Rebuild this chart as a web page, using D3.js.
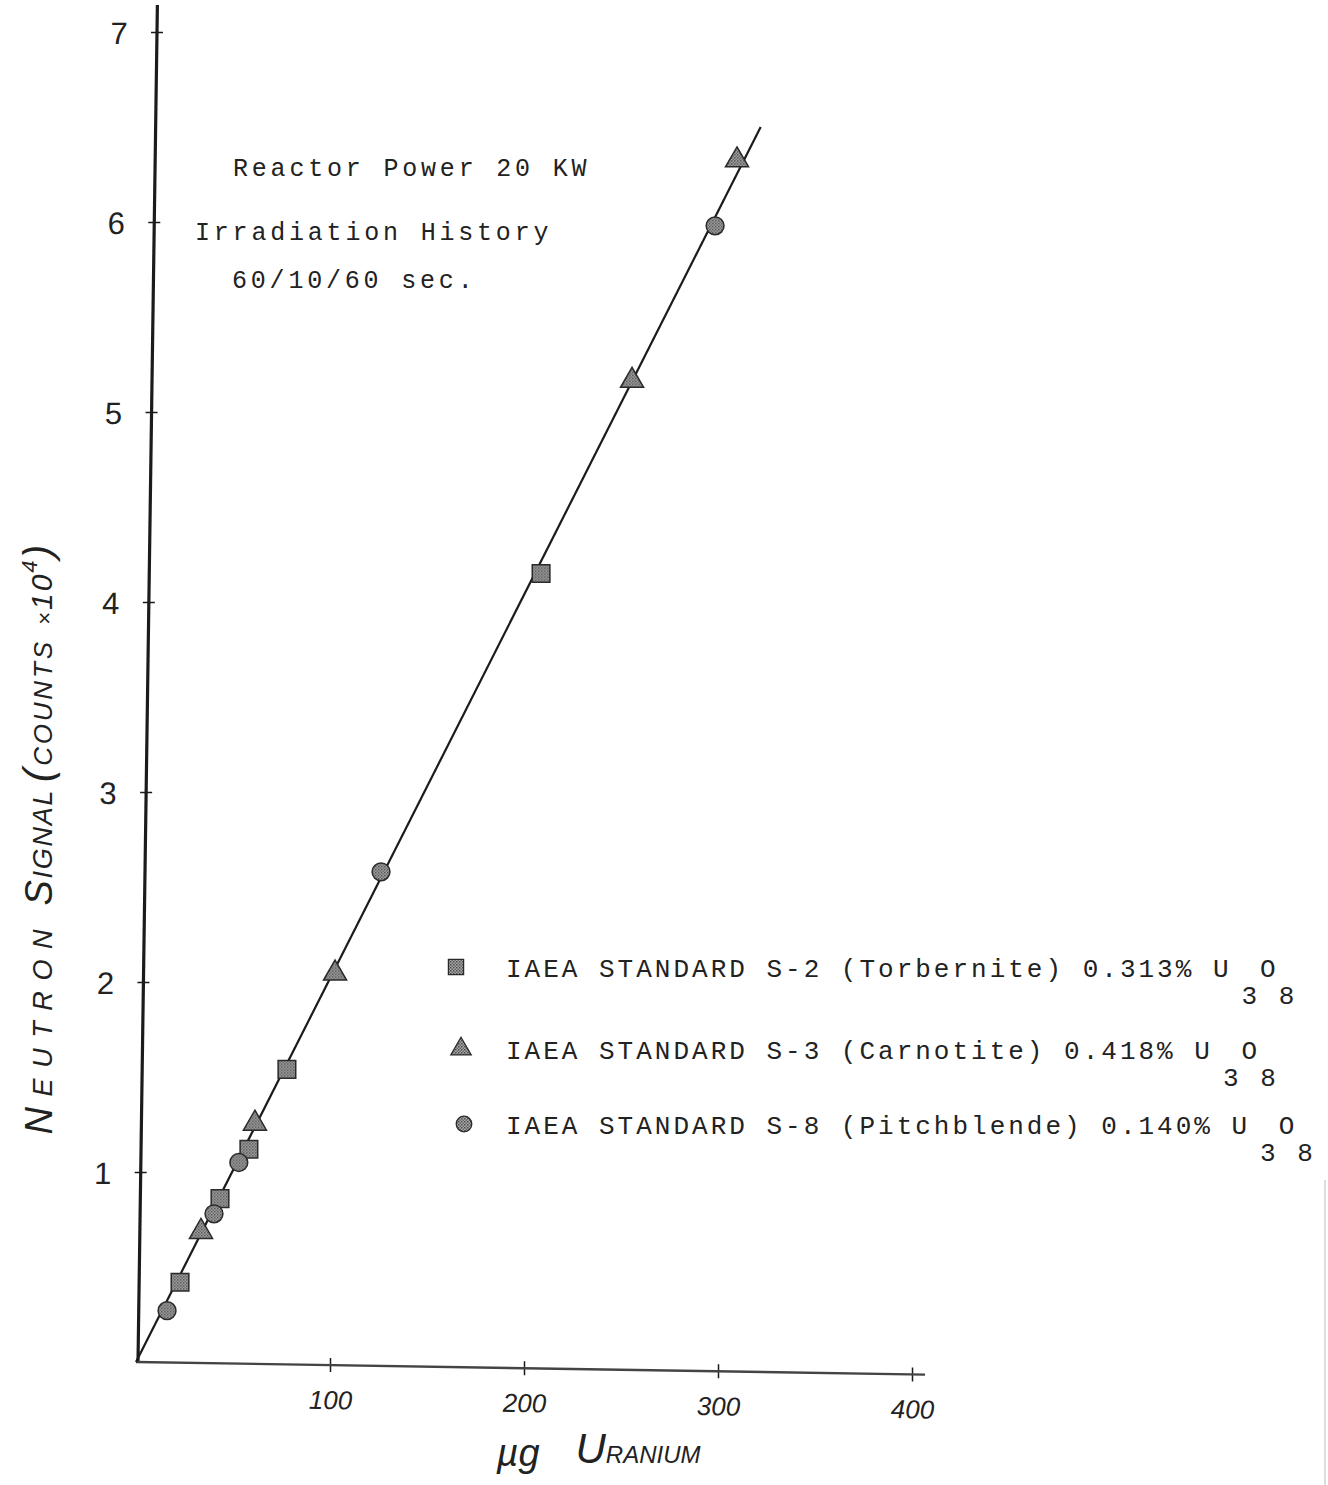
<!DOCTYPE html>
<html>
<head>
<meta charset="utf-8">
<script src="https://cdn.jsdelivr.net/npm/d3@7"></script>
<style>
  html, body { margin: 0; padding: 0; background: #fff; }
  svg { display: block; }
</style>
</head>
<body>
<svg id="chart" width="1328" height="1485"></svg>
<script>
// ---- data ----
const xTicks = [100, 200, 300, 400];
const yTicks = [1, 2, 3, 4, 5, 6, 7];

// IAEA S-2 (Torbernite) - squares
const s2X = [22.7, 43.3, 58.2, 77.8, 208.8];
const s2Y = [0.42, 0.86, 1.12, 1.54, 4.15];
// IAEA S-3 (Carnotite) - triangles
const s3X = [33.5, 61.3, 102.6, 255.7, 309.8];
const s3Y = [0.68, 1.25, 2.04, 5.16, 6.32];
// IAEA S-8 (Pitchblende) - circles
const s8X = [16.0, 40.2, 53.0, 126.3, 298.5];
const s8Y = [0.27, 0.78, 1.05, 2.58, 5.98];

// fitted calibration line
const fitX = [0, 322];
const fitY = [0, 6.5];

const legendMain = [
  "IAEA STANDARD S-2 (Torbernite) 0.313% U",
  "IAEA STANDARD S-3 (Carnotite)  0.418% U",
  "IAEA STANDARD S-8 (Pitchblende) 0.140% U"
];
const legendShapes = ["square", "triangle", "circle"];

const noteLines = ["Reactor Power 20 KW", "Irradiation History", "60/10/60 sec."];

// ---- drawing ----
const svg = d3.select("#chart");
const ink = "#1b1b1b";

const x = d3.scaleLinear().domain([0, 400]).range([136, 912]);
const y = d3.scaleLinear().domain([0, 7]).range([1362, 32]);

// stipple pattern for markers
const defs = svg.append("defs");
const pat = defs.append("pattern").attr("id", "stip").attr("patternUnits", "userSpaceOnUse")
  .attr("width", 3).attr("height", 3);
pat.append("rect").attr("width", 3).attr("height", 3).attr("fill", "#aaa");
pat.append("rect").attr("width", 1.5).attr("height", 1.5).attr("fill", "#4a4a4a");
pat.append("rect").attr("x", 1.5).attr("y", 1.5).attr("width", 1.5).attr("height", 1.5).attr("fill", "#666");

// ---- Y axis (slightly tilted like the hand-drawn original) ----
const k = 19 / 1330;
const yAxisG = svg.append("g")
  .attr("transform", `translate(${138 + k * 1362},0) skewX(${-Math.atan(k) * 180 / Math.PI})`);
yAxisG.call(d3.axisLeft(y).tickValues(yTicks).tickFormat(d3.format("d")).tickSize(0).tickPadding(0));
yAxisG.select(".domain").remove();
yAxisG.selectAll(".tick line").attr("x1", -6).attr("x2", 6).attr("stroke", ink).attr("stroke-width", 1.5);
yAxisG.selectAll(".tick text")
  .attr("x", -38).attr("dy", "0.36em")
  .attr("text-anchor", "middle")
  .style("font-family", "'Liberation Sans', sans-serif")
  .style("font-size", "31px").style("font-weight", "300")
  .attr("fill", "#222");
yAxisG.append("line").attr("x1", 0).attr("x2", 0).attr("y1", y(0)).attr("y2", 5)
  .attr("stroke", ink).attr("stroke-width", 3.2);

// ---- X axis (slight downward slope) ----
const s = 0.016;
const xAxisG = svg.append("g")
  .attr("transform", `translate(0,${1362 - s * 136}) skewY(${Math.atan(s) * 180 / Math.PI})`);
xAxisG.call(d3.axisBottom(x).tickValues(xTicks).tickFormat(d3.format("d")).tickSize(0).tickPadding(0));
xAxisG.select(".domain").remove();
xAxisG.selectAll(".tick line").attr("y1", -7).attr("y2", 7).attr("stroke", ink).attr("stroke-width", 1.5);
xAxisG.selectAll(".tick text")
  .attr("y", 44).attr("dy", 0)
  .style("font-family", "'Liberation Sans', sans-serif")
  .style("font-size", "26px").style("font-style", "italic")
  .attr("fill", "#222");
xAxisG.append("line").attr("x1", x(0)).attr("x2", 925).attr("y1", 0).attr("y2", 0)
  .attr("stroke", "#444").attr("stroke-width", 2.4);

// ---- fit line ----
svg.append("path")
  .datum(fitX.map((v, i) => [v, fitY[i]]))
  .attr("fill", "none").attr("stroke", ink).attr("stroke-width", 2.2)
  .attr("d", d3.line().x(d => x(d[0])).y(d => y(d[1])));

// ---- markers ----
const sym = {
  square: d3.symbol().type(d3.symbolSquare).size(310),
  triangle: d3.symbol().type(d3.symbolTriangle).size(230),
  circle: d3.symbol().type(d3.symbolCircle).size(250)
};
function drawSeries(xs, ys, shape) {
  svg.append("g").selectAll("path").data(xs.map((v, i) => [v, ys[i]])).join("path")
    .attr("transform", d => `translate(${x(d[0])},${y(d[1]) + (shape === "triangle" ? -1 : 0)})`)
    .attr("d", sym[shape]())
    .attr("fill", "url(#stip)").attr("stroke", "#2a2a2a").attr("stroke-width", 1.5);
}
drawSeries(s2X, s2Y, "square");
drawSeries(s3X, s3Y, "triangle");
drawSeries(s8X, s8Y, "circle");

// ---- annotation (typewriter) ----
const mono = "'Liberation Mono', 'DejaVu Sans Mono', monospace";
const noteX = [233, 195, 232];
const noteY = [176, 240, 288];
svg.append("g").selectAll("text").data(noteLines).join("text")
  .attr("x", (d, i) => noteX[i]).attr("y", (d, i) => noteY[i])
  .style("font-family", mono).style("font-size", "25px").style("letter-spacing", "3.8px")
  .attr("fill", "#222").text(d => d);

// ---- legend ----
const legY = [977, 1059, 1134];
const legMarkX = [456, 461, 464];
const lsym = {
  square: d3.symbol().type(d3.symbolSquare).size(230),
  triangle: d3.symbol().type(d3.symbolTriangle).size(180),
  circle: d3.symbol().type(d3.symbolCircle).size(190)
};
legendMain.forEach((t, i) => {
  svg.append("path")
    .attr("transform", `translate(${legMarkX[i]},${legY[i] - 10})`)
    .attr("d", lsym[legendShapes[i]]())
    .attr("fill", "url(#stip)").attr("stroke", "#2a2a2a").attr("stroke-width", 1.3);
  const tx = svg.append("text")
    .attr("x", 506).attr("y", legY[i])
    .style("font-family", mono).style("font-size", "26px").style("letter-spacing", "3.0px")
    .attr("fill", "#222");
  tx.append("tspan").text(t);
  tx.append("tspan").attr("dx", 10).attr("dy", 27).text("3");
  tx.append("tspan").attr("dx", 0).attr("dy", -27).text("O");
  tx.append("tspan").attr("dx", 0).attr("dy", 27).text("8");
});

// ---- axis titles (hand-lettered small caps) ----
const hand = "'Liberation Sans', sans-serif";
function capsText(g, parts, cx, cy, len, rotate) {
  const t = g.append("text")
    .attr("transform", `translate(${cx},${cy})${rotate ? " rotate(-90)" : ""}`)
    .attr("text-anchor", "middle")
    .style("font-family", hand).style("font-style", "italic").style("font-weight", "300")
    .attr("fill", "#222");
  if (len) t.attr("textLength", len).attr("lengthAdjust", "spacing");
  parts.forEach(p => {
    const sp = t.append("tspan").style("font-size", p.size + "px").text(p.t);
    if (p.dy) sp.attr("dy", p.dy);
  });
  return t;
}
const titles = svg.append("g");
capsText(titles, [{t: "N", size: 38}, {t: "EUTRON", size: 27}], 52, 1032, 205, true);
capsText(titles, [{t: "S", size: 38}, {t: "IGNAL", size: 27}], 52, 848, 115, true);
capsText(titles, [{t: "(", size: 40}, {t: "COUNTS", size: 26}], 52, 712, 140, true);
capsText(titles, [{t: "×", size: 22}, {t: "10", size: 30}, {t: "4", size: 22, dy: -15}, {t: ")", size: 40, dy: 15}], 52, 585, 80, true);

capsText(titles, [{t: "µg", size: 38}], 518, 1466, null, false);
capsText(titles, [{t: "U", size: 42}, {t: "RANIUM", size: 24}], 638, 1463, null, false);

// scan edge at right
svg.append("line").attr("x1", 1325).attr("x2", 1325).attr("y1", 1180).attr("y2", 1485)
  .attr("stroke", "#bbb").attr("stroke-width", 1);
</script>
</body>
</html>
